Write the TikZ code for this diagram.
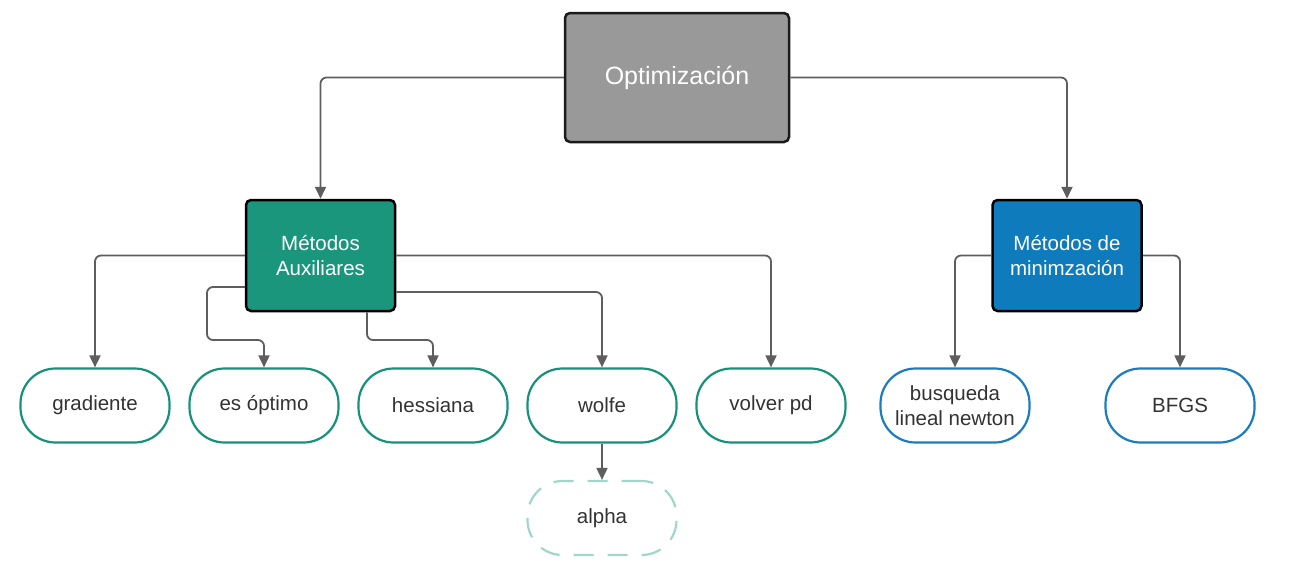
\documentclass[tikz,border=0pt]{standalone}
\usepackage{fontspec}
\setmainfont{Liberation Sans}
\usetikzlibrary{arrows.meta}
\definecolor{optfill}{HTML}{999999}
\definecolor{boxborder}{HTML}{1A1A1A}
\definecolor{tealfill}{HTML}{1A967D}
\definecolor{bluefill}{HTML}{0E7BBD}
\definecolor{tealline}{HTML}{16927A}
\definecolor{blueline}{HTML}{1A7DBF}
\definecolor{lightteal}{HTML}{9FD8CB}
\definecolor{connc}{HTML}{5E5E5E}
\definecolor{txt}{HTML}{333333}
\tikzset{
  topbox/.style={draw=boxborder, line width=2.5pt, rounded corners=5pt, fill=optfill, text=white,
    minimum width=224pt, minimum height=129pt, font=\fontsize{25}{29}\selectfont, align=center},
  midbox/.style={draw=black, line width=2.5pt, rounded corners=5pt, text=white,
    minimum width=149pt, minimum height=111pt, font=\fontsize{20.5}{24.5}\selectfont, align=center},
  leaf/.style={draw=tealline, line width=2.2pt, rounded corners=35pt, fill=white, text=txt,
    minimum width=149pt, minimum height=74pt, font=\fontsize{20.5}{24.5}\selectfont, align=center},
  bleaf/.style={leaf, draw=blueline},
  dleaf/.style={leaf, draw=lightteal, dash pattern=on 20pt off 14pt},
  conn/.style={draw=connc, line width=1.8pt, rounded corners=6pt,
    -{Triangle[length=12pt,width=11pt]}},
}
\begin{document}
\begin{tikzpicture}[x=1pt,y=-1pt]
\useasboundingbox (0,0) rectangle (1293,581);
\node[topbox] (opt) at (677,77.5) {Optimización};
\node[midbox, fill=tealfill] (aux) at (320.5,255.5) {Métodos\\Auxiliares};
\node[midbox, fill=bluefill] (min) at (1067,255.5) {Métodos de\\minimzación};
\node[leaf] (grad) at (95,405.5) {gradiente};
\node[leaf] (es) at (264,405.5) {es óptimo};
\node[leaf] (hess) at (433,405.5) {hessiana};
\node[leaf] (wolfe) at (602,405.5) {wolfe};
\node[leaf] (volver) at (771,405.5) {volver pd};
\node[bleaf] (busq) at (955,405.5) {busqueda\\lineal newton};
\node[bleaf] (bfgs) at (1180,405.5) {BFGS};
\node[dleaf] (alpha) at (602,518) {alpha};
\coordinate (b1) at (207,340);
\coordinate (b2) at (367,340);
\draw[conn] (opt.west) -| (aux.north);
\draw[conn] (opt.east) -| (min.north);
\draw[conn] (aux.west) -| (grad.north);
\draw[conn] (aux.east) -| (volver.north);
\draw[conn] ([yshift=-31.5pt]aux.west) -| (b1) -| (es.north);
\draw[conn] (aux.south -| b2) -- (b2) -| (hess.north);
\draw[conn] ([yshift=-36.5pt]aux.east) -| (wolfe.north);
\draw[conn] (min.west) -| (busq.north);
\draw[conn] (min.east) -| (bfgs.north);
\draw[conn] (wolfe.south) -- (alpha.north);
\end{tikzpicture}
\end{document}
